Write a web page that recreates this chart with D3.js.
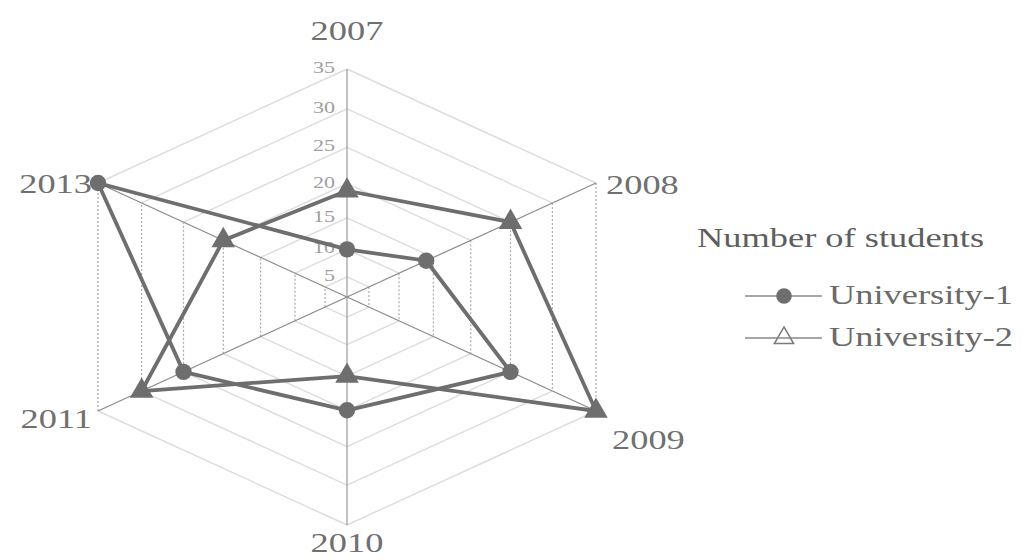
<!DOCTYPE html>
<html>
<head>
<meta charset="utf-8">
<script src="https://cdn.jsdelivr.net/npm/d3@7"></script>
<style>
    body { margin: 0; background: #fff; }
    text { font-family: "Liberation Serif", "DejaVu Serif", serif; }
</style>
</head>
<body>
<div id="chart"></div>
<script>
// data
var years = ["2007", "2008", "2009", "2010", "2011", "2013"];
var university1 = [10, 14, 25, 20, 25, 35];
var university2 = [19, 25, 35, 15, 30, 20];
var tickValues = [5, 10, 15, 20, 25, 30, 35];
var seriesNames = ["University-1", "University-2"];
var legendTitle = "Number of students";

var width = 1033, height = 560;
var cx = 347, cy = 297;
var kx = 1.261;      // chart is drawn wider than tall
var textStretch = 1.3;

var svg = d3.select("#chart").append("svg")
    .attr("width", width)
    .attr("height", height);

// radial scale (the original is compressed towards the centre)
var rScale = d3.scalePow().exponent(1.25)
    .domain([0, 35])
    .range([0, 228]);

function angle(i) {
    return i * Math.PI / 3;
}
function point(v, i) {
    var r = rScale(v);
    return [cx + kx * r * Math.sin(angle(i)), cy - r * Math.cos(angle(i))];
}

function addText(g, x, y, str, size, anchor, color) {
    return g.append("text")
        .attr("transform", "translate(" + x + "," + y + ") scale(" + textStretch + ",1)")
        .attr("font-size", size)
        .attr("text-anchor", anchor)
        .attr("fill", color)
        .text(str);
}

var grid = svg.append("g");

// rings: slanted edges solid, vertical edges dotted
tickValues.forEach(function(t) {
    for (var i = 0; i < years.length; i++) {
        var j = (i + 1) % years.length;
        var p1 = point(t, i), p2 = point(t, j);
        var vertical = Math.abs(p1[0] - p2[0]) < 1;
        grid.append("line")
            .attr("x1", p1[0]).attr("y1", p1[1])
            .attr("x2", p2[0]).attr("y2", p2[1])
            .attr("stroke", vertical ? "#ababab" : "#dcdcdc")
            .attr("stroke-width", vertical ? 1.2 : 1.4)
            .attr("stroke-dasharray", vertical ? "2,2" : null);
    }
});

// spokes
years.forEach(function(y, i) {
    var p = point(35, i);
    grid.append("line")
        .attr("x1", cx).attr("y1", cy)
        .attr("x2", p[0]).attr("y2", p[1])
        .attr("stroke", i == 0 || i == 3 ? "#9a9a9a" : "#8a8a8a")
        .attr("stroke-width", 1.2);
});

// tick labels along the 2007 axis
tickValues.forEach(function(t) {
    addText(grid, cx - 12, cy - rScale(t) + 4, t, 17, "end", "#a0a0a0");
});

// axis labels
var labelOffset = [[0, -29], [10, 11], [16, 38], [0, 27], [-6, 17], [-6, 10]];
var labelAnchor = ["middle", "start", "start", "middle", "end", "end"];
years.forEach(function(y, i) {
    var p = point(35, i);
    addText(svg, p[0] + labelOffset[i][0], p[1] + labelOffset[i][1], y, 28, labelAnchor[i], "#707070");
});

// series
var lineColor = "#6e6e6e";
var line = d3.line().curve(d3.curveLinearClosed);

function drawSeries(values, symbolType) {
    var pts = values.map(function(v, i) { return point(v, i); });
    svg.append("path")
        .attr("d", line(pts))
        .attr("fill", "none")
        .attr("stroke", lineColor)
        .attr("stroke-width", 3.8)
        .attr("stroke-linejoin", "round");
    svg.selectAll(null)
        .data(pts)
        .enter()
        .append("path")
        .attr("transform", function(d) { return "translate(" + d[0] + "," + d[1] + ")"; })
        .attr("d", d3.symbol().type(symbolType).size(symbolType == d3.symbolCircle ? 210 : 240))
        .attr("fill", lineColor);
}
drawSeries(university1, d3.symbolCircle);
drawSeries(university2, d3.symbolTriangle);

// legend
var legend = svg.append("g");
addText(legend, 697, 247, legendTitle, 28, "start", "#5e5e5e");
var symbols = [d3.symbolCircle, d3.symbolTriangle];
seriesNames.forEach(function(name, i) {
    var y = 296 + i * 42;
    legend.append("line")
        .attr("x1", 745).attr("x2", 822)
        .attr("y1", y).attr("y2", y)
        .attr("stroke", "#8a8a8a")
        .attr("stroke-width", 1.5);
    legend.append("path")
        .attr("transform", "translate(784," + y + ")")
        .attr("d", d3.symbol().type(symbols[i]).size(i == 0 ? 190 : 160))
        .attr("fill", i == 0 ? lineColor : "none")
        .attr("stroke", i == 0 ? "none" : "#7a7a7a")
        .attr("stroke-width", 1.5);
    addText(legend, 829, y + 8, name, 28, "start", "#6a6a6a");
});
</script>
</body>
</html>
